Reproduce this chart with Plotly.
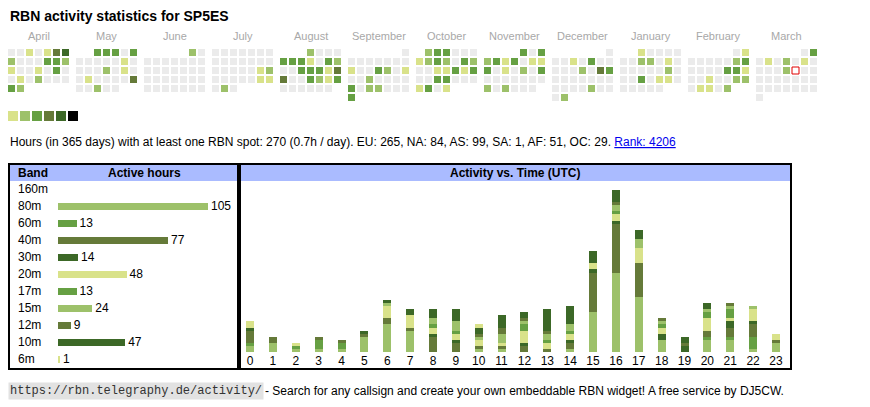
import datetime as dt
import plotly.graph_objects as go

# ---- calendar (one digit per day, 0 = no spot, 1..6 = activity step) ----
months = ['April', 'May', 'June', 'July', 'August', 'September',
          'October', 'November', 'December', 'January', 'February', 'March']
month_first = [(2024, 4), (2024, 5), (2024, 6), (2024, 7), (2024, 8), (2024, 9),
               (2024, 10), (2024, 11), (2024, 12), (2025, 1), (2025, 2), (2025, 3)]
lvl_apr = "001014520003321001030010200032"
lvl_may = "3330300000100002010010000400200"
lvl_jun = "200000000000000000000000000000"
lvl_jul = "0000000000000000000120000011020"
lvl_aug = "2000333103200333144003213000000"
lvl_sep = "000000001003201002000030220003"
lvl_oct = "2330001232032001131300330001301"
lvl_nov = "303231301130102030000000202000"
lvl_dec = "0001030000020430000000000020002"
lvl_jan = "1000000220100000020003011000000"
lvl_feb = "0100000230000331001002201102"
lvl_mar = "0301020100002000000000000000000"
today = dt.date(2025, 3, 14)
level_colors = ['#ebebeb', '#d9e28a', '#9dc16a', '#66a043', '#657a39', '#3c6827', '#000000']

# ---- bands ----
bands = ['160m', '80m', '60m', '40m', '30m', '20m', '17m', '15m', '12m', '10m', '6m']
band_hours = [0, 105, 13, 77, 14, 48, 13, 24, 9, 47, 1]
band_colors = ['#d9e28a', '#9dc16a', '#66a043', '#657a39', '#3c6827', '#d9e28a',
               '#66a043', '#9dc16a', '#657a39', '#3c6827', '#d9e28a']

# ---- activity per UTC hour and band ----
hours = list(range(24))
act_160m = [0, 0, 0, 0, 0, 0, 0, 0, 0, 0, 0, 0, 0, 0, 0, 0, 0, 0, 0, 0, 0, 0, 0, 0]
act_80m = [2, 3, 1, 1, 1, 5, 9, 7, 0, 0, 1, 1, 0, 0, 1, 13, 26, 18, 4, 0, 4, 4, 1, 3]
act_60m = [1, 0, 1, 3, 2, 0, 0, 0, 0, 0, 0, 0, 0, 0, 0, 0, 0, 0, 0, 0, 1, 1, 4, 0]
act_40m = [4, 2, 0, 1, 1, 1, 2, 1, 5, 3, 1, 1, 2, 1, 2, 13, 16, 11, 0, 0, 2, 3, 4, 1]
act_30m = [1, 0, 0, 0, 0, 0, 0, 0, 1, 1, 0, 0, 1, 0, 1, 1, 1, 0, 2, 2, 0, 2, 1, 0]
act_20m = [2, 0, 1, 0, 0, 0, 4, 4, 2, 2, 2, 1, 4, 2, 2, 2, 2, 5, 2, 0, 4, 1, 4, 2]
act_17m = [0, 0, 0, 0, 0, 0, 0, 0, 1, 1, 0, 0, 2, 1, 1, 0, 1, 0, 1, 0, 2, 3, 0, 0]
act_15m = [0, 0, 0, 0, 0, 0, 1, 0, 2, 3, 1, 3, 1, 2, 2, 0, 2, 3, 1, 0, 1, 1, 1, 0]
act_12m = [0, 0, 0, 0, 0, 0, 0, 0, 0, 0, 1, 2, 1, 1, 0, 0, 1, 0, 1, 1, 0, 1, 0, 0]
act_10m = [0, 0, 0, 0, 0, 1, 1, 2, 3, 4, 2, 4, 2, 7, 6, 4, 4, 3, 0, 2, 2, 0, 0, 0]
act_6m = [0, 0, 0, 0, 0, 0, 0, 0, 0, 0, 1, 0, 0, 0, 0, 0, 0, 0, 0, 0, 0, 0, 0, 0]

# the page body has an 8px margin, so the figure starts at (8, 8)
OX, OY = 8, 8
W, H = 862, 399
FONT = 'Liberation Sans, Arial, sans-serif'


def fx(p):
    return (p - OX) / W


def fy(p):
    return 1 - (p - OY) / H


def main():
    levels = [lvl_apr, lvl_may, lvl_jun, lvl_jul, lvl_aug, lvl_sep,
              lvl_oct, lvl_nov, lvl_dec, lvl_jan, lvl_feb, lvl_mar]
    activity = [act_160m, act_80m, act_60m, act_40m, act_30m, act_20m,
                act_17m, act_15m, act_12m, act_10m, act_6m]

    # calendar grid: 9px pitch, month blocks 68px apart
    cell, step = 9, 68 / 9
    left, top = 8, 49
    cx, cy, cc = [], [], []
    tx, ty = [], []
    for m, ((yr, mo), lv) in enumerate(zip(month_first, levels)):
        off = dt.date(yr, mo, 1).weekday()
        for d, ch in enumerate(lv):
            pos = d + off
            cx.append(m * step + pos % 7)
            cy.append(pos // 7)
            cc.append(level_colors[int(ch)])
            if dt.date(yr, mo, d + 1) == today:
                tx.append(m * step + pos % 7)
                ty.append(pos // 7)

    fig = go.Figure()
    fig.add_trace(go.Scatter(x=cx, y=cy, mode='markers', xaxis='x', yaxis='y',
                             marker=dict(symbol='square', size=7, color=cc, line=dict(width=0)),
                             hoverinfo='skip'))
    fig.add_trace(go.Scatter(x=tx, y=ty, mode='markers', xaxis='x', yaxis='y',
                             marker=dict(symbol='square', size=7, color='#ffffff',
                                         line=dict(width=1, color='#e00000')),
                             hoverinfo='skip'))
    # colour legend under the calendar (10px squares, 12px pitch)
    lx = [(13 - left - 3.5 + i * 12) / cell for i in range(len(level_colors) - 1)]
    ly = [(116 - top - 3.5) / cell] * len(lx)
    fig.add_trace(go.Scatter(x=lx, y=ly, mode='markers', xaxis='x', yaxis='y',
                             marker=dict(symbol='square', size=10, color=level_colors[1:],
                                         line=dict(width=0)),
                             hoverinfo='skip'))

    # band table
    fig.add_trace(go.Bar(y=bands, x=band_hours, orientation='h', xaxis='x2', yaxis='y2',
                         marker=dict(color=band_colors, line=dict(width=0)), width=7 / 17,
                         text=[str(v) if v else '' for v in band_hours],
                         textposition='outside', constraintext='none', cliponaxis=False,
                         textfont=dict(family=FONT, size=12, color='black'),
                         hoverinfo='skip'))

    # activity vs time
    for b, vals, col in zip(bands, activity, band_colors):
        fig.add_trace(go.Bar(x=hours, y=vals, name=b, xaxis='x3', yaxis='y3',
                             marker=dict(color=col, line=dict(width=0)), width=8 / 22.87,
                             hoverinfo='skip'))

    tot = [sum(v) for v in zip(*activity)]
    ytop = max(tot) * (352 - 185) / 162

    annotations = [
        dict(text='<b>RBN activity statistics for SP5ES</b>', x=fx(8), y=fy(16),
             font=dict(size=14, color='black')),
        dict(text='Hours (in 365 days) with at least one RBN spot: 270 (0.7h / day). '
                  'EU: 265, NA: 84, AS: 99, SA: 1, AF: 51, OC: 29. '
                  '<span style="color:#0000ee"><u>Rank: 4206</u></span>',
             x=fx(8), y=fy(142), font=dict(size=12, color='black')),
        dict(text='<b>Band</b>', x=fx(16), y=fy(173), font=dict(size=12, color='black')),
        dict(text='<b>Active hours</b>', x=fx(144.5), y=fy(173), xanchor='center',
             font=dict(size=12, color='black')),
        dict(text='<b>Activity vs. Time (UTC)</b>', x=fx(515), y=fy(173), xanchor='center',
             font=dict(size=12, color='black')),
        dict(text='https://rbn.telegraphy.de/activity/', x=fx(8), y=fy(391),
             font=dict(family='Liberation Mono, monospace', size=12, color='#333333'),
             bgcolor='#e2e2e2', borderpad=1),
        dict(text='- Search for any callsign and create your own embeddable RBN widget! '
                  'A free service by DJ5CW.', x=fx(263), y=fy(391),
             font=dict(size=12, color='black')),
    ]
    for a in annotations:
        a.setdefault('xanchor', 'left')
        a.update(xref='paper', yref='paper', yanchor='middle', showarrow=False)
    for m, name in enumerate(months):
        annotations.append(dict(text=name, x=m * step + 3, y=(35.5 - top - 3.5) / cell,
                                xref='x', yref='y', showarrow=False,
                                font=dict(size=11, color='#a8a8a8')))
    for b in bands:
        annotations.append(dict(text=b, x=fx(16), y=b, xref='paper', yref='y2',
                                xanchor='left', showarrow=False,
                                font=dict(size=12, color='black')))

    shapes = [
        dict(type='rect', x0=fx(10), x1=fx(237), y0=fy(165), y1=fy(181),
             fillcolor='#aabbff', line=dict(width=0)),
        dict(type='rect', x0=fx(241), x1=fx(790), y0=fy(165), y1=fy(181),
             fillcolor='#aabbff', line=dict(width=0)),
        dict(type='rect', x0=fx(9), x1=fx(238), y0=fy(164), y1=fy(369),
             line=dict(width=2, color='black')),
        dict(type='rect', x0=fx(240), x1=fx(791), y0=fy(164), y1=fy(369),
             line=dict(width=2, color='black')),
    ]
    for s in shapes:
        s.update(xref='paper', yref='paper')

    fig.update_layout(
        width=W, height=H, margin=dict(l=0, r=0, t=0, b=0, pad=0),
        paper_bgcolor='white', plot_bgcolor='rgba(0,0,0,0)',
        showlegend=False, barmode='stack',
        font=dict(family=FONT, color='black'),
        xaxis=dict(domain=[0, 1],
                   range=[(OX - left - 3.5) / cell, (OX + W - left - 3.5) / cell],
                   visible=False),
        yaxis=dict(domain=[0, 1],
                   range=[(OY + H - top - 3.5) / cell, (OY - top - 3.5) / cell],
                   visible=False),
        xaxis2=dict(domain=[fx(58), fx(208)], range=[0, max(band_hours)], visible=False,
                    anchor='y2'),
        yaxis2=dict(domain=[fy(367.5), fy(180.5)], type='category',
                    categoryorder='array', categoryarray=bands,
                    range=[len(bands) - 0.5, -0.5], visible=False, anchor='x2'),
        xaxis3=dict(domain=[fx(238.6), fx(787.4)], range=[-0.5, 23.5], anchor='y3',
                    tickmode='array', tickvals=hours, ticks='', showgrid=False,
                    zeroline=False, showline=False,
                    tickfont=dict(family=FONT, size=12, color='black')),
        yaxis3=dict(domain=[fy(352), fy(185)], range=[0, ytop], visible=False,
                    anchor='x3'),
        annotations=annotations, shapes=shapes,
    )
    fig.write_html('out.html')


if __name__ == '__main__':
    main()
